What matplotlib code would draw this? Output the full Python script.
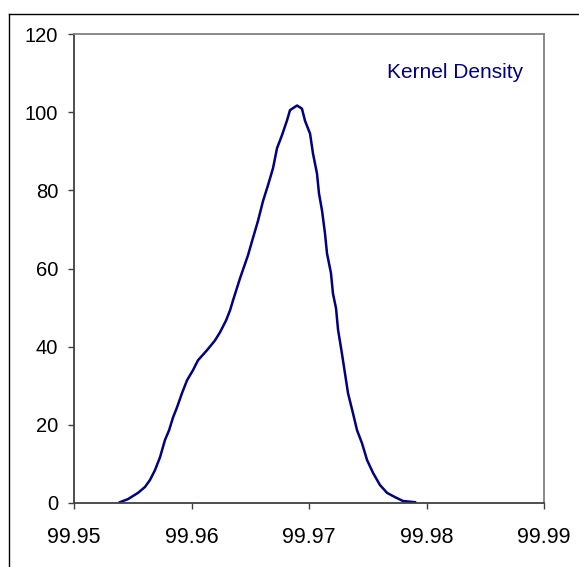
import matplotlib
matplotlib.use("Agg")
import matplotlib.pyplot as plt
from matplotlib.lines import Line2D

plt.rcParams['font.family'] = ['Liberation Sans', 'DejaVu Sans']

x_vals = [99.95391, 99.95460, 99.95545, 99.95604, 99.95647, 99.95689, 99.95732,
          99.95774, 99.95809, 99.95843, 99.95877, 99.95919, 99.95962, 99.96013,
          99.96055, 99.96132, 99.96200, 99.96243, 99.96294, 99.96328, 99.96353,
          99.96413, 99.96481, 99.96523, 99.96566, 99.96609, 99.96651, 99.96694,
          99.96728, 99.96770, 99.96813, 99.96838, 99.96898, 99.96940, 99.96966,
          99.97009, 99.97034, 99.97068, 99.97085, 99.97111, 99.97136, 99.97153,
          99.97187, 99.97204, 99.97230, 99.97247, 99.97281, 99.97306, 99.97332,
          99.97374, 99.97409, 99.97451, 99.97494, 99.97545, 99.97604, 99.97664,
          99.97732, 99.97800, 99.97902]
density = [0.2, 1.0, 2.6, 4.1, 5.9, 8.4, 11.7,
           16.1, 18.6, 21.9, 24.5, 28.1, 31.4, 34.0,
           36.5, 39.1, 41.6, 43.7, 46.7, 49.3, 51.8,
           57.5, 63.4, 67.8, 72.2, 77.3, 81.3, 85.7,
           90.8, 94.1, 97.9, 100.5, 101.7, 100.9, 97.8,
           94.5, 89.4, 84.3, 79.2, 74.8, 69.0, 63.9,
           58.8, 53.6, 49.8, 44.4, 38.1, 33.2, 28.1,
           23.0, 18.6, 15.3, 11.0, 7.7, 4.6, 2.6,
           1.5, 0.5, 0.2]

x_ticks = [99.95, 99.96, 99.97, 99.98, 99.99]
x_tick_labels = ["99.95", "99.96", "99.97", "99.98", "99.99"]
y_ticks = [0, 20, 40, 60, 80, 100, 120]
label_text = "Kernel Density"

W, H = 579, 567
fig = plt.figure(figsize=(W / 100, H / 100), dpi=100)
ax = fig.add_axes([74 / W, 1 - 503 / H, (544 - 74) / W, (503 - 34) / H])

ax.plot(x_vals, density, color="#000080", linewidth=1.8)

ax.set_xlim(99.95, 99.99)
ax.set_ylim(0, 120)
ax.set_xticks(x_ticks)
ax.set_xticklabels(x_tick_labels)
ax.set_yticks(y_ticks)

for s in ["left", "bottom"]:
    ax.spines[s].set_color("#404040")
    ax.spines[s].set_linewidth(1.3)
for s in ["top", "right"]:
    ax.spines[s].set_color("#808080")
    ax.spines[s].set_linewidth(1.3)

ax.tick_params(axis="both", direction="out", length=4.5, width=1.0,
               color="#404040", labelcolor="black")
ax.tick_params(axis="y", pad=7, labelsize=14.5)
ax.tick_params(axis="x", pad=13, labelsize=15.5)

ax.text(0.955, 0.917, label_text, transform=ax.transAxes, ha="right", va="center",
        color="#000080", fontsize=15)

# outer frame (partially visible)
fig.add_artist(Line2D([8.5 / W, 8.5 / W], [0, 1 - 13.5 / H], transform=fig.transFigure,
                      color="black", linewidth=1.0))
fig.add_artist(Line2D([8.5 / W, 1], [1 - 13.5 / H, 1 - 13.5 / H], transform=fig.transFigure,
                      color="black", linewidth=1.0))

fig.savefig("out.png", dpi=100)
